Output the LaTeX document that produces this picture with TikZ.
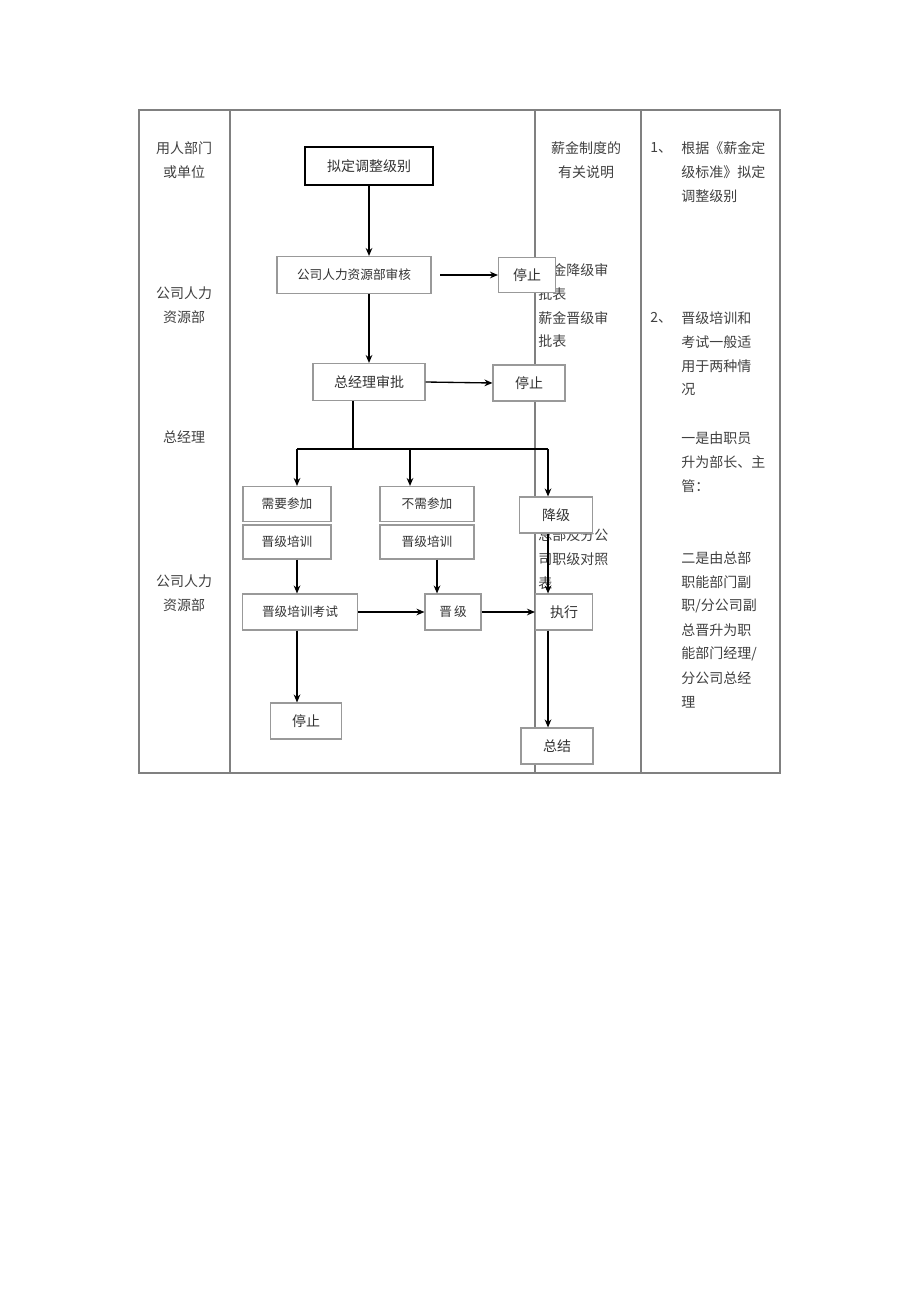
\documentclass[tikz,border=0pt]{standalone}
\usepackage{fontspec}
\setmainfont{Noto Sans CJK SC}
\usetikzlibrary{arrows.meta}
\begin{document}
\begin{tikzpicture}[x=0.75pt,y=-0.75pt,
  bx/.style={draw=gray!80,fill=white,line width=0.8pt,inner sep=0pt,font=\fontsize{9.5}{11}\selectfont,text=black!80},
  ar/.style={-{Stealth[length=6pt,width=5pt]},line width=1pt},
  ln/.style={line width=1pt},
  lab/.style={font=\fontsize{10.5}{18}\selectfont,text=black!75,align=center},
  tx/.style={font=\fontsize{10.5}{12}\selectfont,text=black!75,anchor=west,inner sep=0pt}]
\useasboundingbox (0,0) rectangle (920,1301);
\draw[gray,line width=0.8pt] (139,110) rectangle (780,773);
\foreach \x in {230,535,641} \draw[gray,line width=0.8pt] (\x,110) -- (\x,773);
% left labels
\node[lab] (l1) at (184,160) {用人部门\\或单位};
\node[lab] (l2) at (184,305) {公司人力\\资源部};
\node[lab] (l3) at (184,437) {总经理};
\node[lab] (l4) at (184,593) {公司人力\\资源部};
% column 3
\node[lab] (c3) at (586,160) {薪金制度的\\有关说明};
\foreach \t/\y in {薪金降级审/270,批表/294,薪金晋级审/318,批表/341,总部及分公/535,司职级对照/559,表/583}
  \node[tx] at (538,\y) {\t};
% column 4
\foreach \t/\x/\y in {1、/650/148,根据《薪金定/681/148,级标准》拟定/681/172,调整级别/681/196,
  2、/650/318,晋级培训和/681/318,考试一般适/681/342,用于两种情/681/366,况/681/390,
  一是由职员/681/438,升为部长、主/681/462,管：/681/486,
  二是由总部/681/558,职能部门副/681/582,{职/分公司副}/681/606,总晋升为职/681/630,{能部门经理/}/681/654,分公司总经/681/678,理/681/702}
  \node[tx] at (\x,\y) {\t};
% boxes
\node[bx,draw=black,line width=1.2pt,minimum width=96pt,minimum height=28.5pt,font=\fontsize{10.5}{12}\selectfont] (a) at (369,166) {拟定调整级别};
\node[bx,minimum width=115.5pt,minimum height=27.75pt] (b) at (354,275) {公司人力资源部审核};
\node[bx,minimum width=42.75pt,minimum height=26.25pt,font=\fontsize{10.5}{12}\selectfont] (s1) at (527,275) {停止};
\node[bx,minimum width=84pt,minimum height=27.75pt,font=\fontsize{10.5}{12}\selectfont] (c) at (369,382) {总经理审批};
\node[bx,minimum width=54pt,minimum height=27pt,font=\fontsize{10.5}{12}\selectfont] (s2) at (529,383) {停止};
\node[bx,minimum width=66pt,minimum height=26.25pt] (d1) at (287,504) {需要参加};
\node[bx,minimum width=66pt,minimum height=25.5pt] (d2) at (287,542) {晋级培训};
\node[bx,minimum width=70.5pt,minimum height=26.25pt] (e1) at (427,504) {不需参加};
\node[bx,minimum width=70.5pt,minimum height=25.5pt] (e2) at (427,542) {晋级培训};
\node[bx,minimum width=54.75pt,minimum height=27pt,font=\fontsize{10.5}{12}\selectfont] (f) at (556,515) {降级};
\node[bx,minimum width=86.25pt,minimum height=27pt] (g) at (300,612) {晋级培训考试};
\node[bx,minimum width=42pt,minimum height=27pt] (h) at (453,612) {晋\,级};
\node[bx,minimum width=42.75pt,minimum height=27pt,font=\fontsize{10.5}{12}\selectfont] (ex) at (564,612) {执行};
\node[bx,minimum width=53.25pt,minimum height=27pt,font=\fontsize{10.5}{12}\selectfont] (s3) at (306,721) {停止};
\node[bx,minimum width=54pt,minimum height=27pt,font=\fontsize{10.5}{12}\selectfont] (z) at (557,746) {总结};
% connectors
\coordinate (j) at (353,449);
\coordinate (jl) at (297,449);
\coordinate (jm) at (410,449);
\coordinate (jr) at (548,449);
\coordinate (jx) at (437,449);
\coordinate (bs) at (440,275);
\draw[ar] (a.south) -- (a.south |- b.north);
\draw[ar] (bs) -- (s1.west);
\draw[ar] (b.south -| a.south) -- (a.south |- c.north);
\draw[ar] (c.east) -- (s2.west);
\draw[ln] (c.south -| j) -- (j);
\draw[ln] (jl) -- (jr);
\draw[ar] (jl) -- (jl |- d1.north);
\draw[ar] (jm) -- (jm |- e1.north);
\draw[ar] (jr) -- (jr |- f.north);
\draw[ar] (d2.south -| jl) -- (jl |- g.north);
\draw[ar] (e2.south -| jx) -- (jx |- h.north);
\draw[ar] (g.east) -- (h.west);
\draw[ar] (h.east) -- (ex.west);
\draw[ar] (f.south -| jr) -- (jr |- ex.north);
\draw[ar] (g.south -| jl) -- (jl |- s3.north);
\draw[ar] (ex.south -| jr) -- (jr |- z.north);
\end{tikzpicture}
\end{document}
